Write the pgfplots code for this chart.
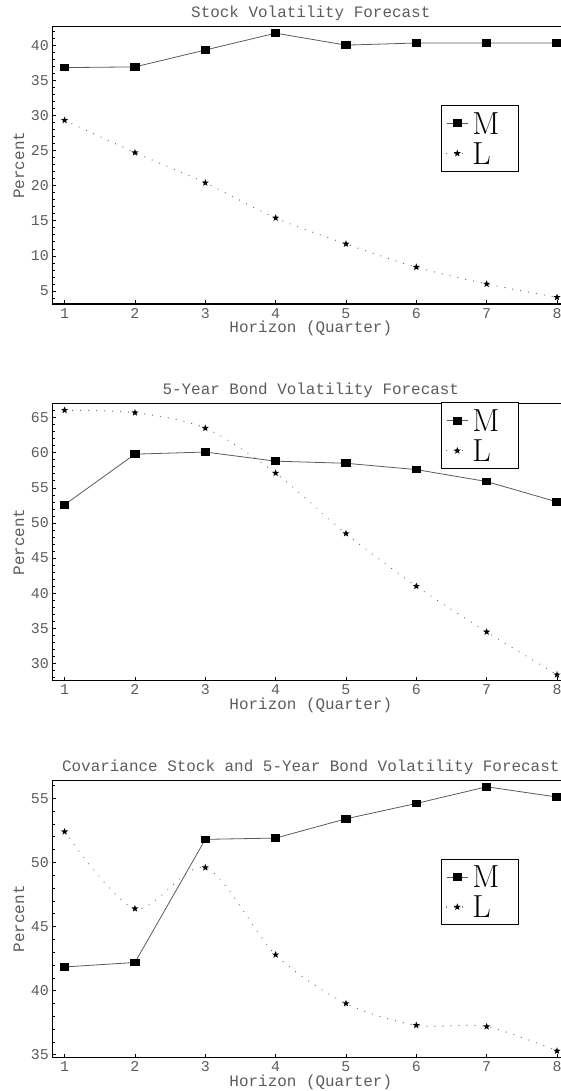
\documentclass[border=0pt]{standalone}
\usepackage{fontspec}
\usepackage{pgfplots}
\pgfplotsset{compat=1.18}
\newfontfamily\mono{Liberation Mono}
\definecolor{txt}{HTML}{5C5C5C}
\definecolor{lnM}{HTML}{5A5A5A}
\definecolor{lnL}{HTML}{6A6A6A}

% filled box marker (a bit wider than tall, as in the source)
\pgfdeclareplotmark{mbox}{%
  \pgfpathrectangle{\pgfpoint{-4.75bp}{-3.85bp}}{\pgfpoint{9.5bp}{7.7bp}}%
  \pgfusepathqfill}
% filled five point star
\pgfdeclareplotmark{fstar}{%
  \pgfpathmoveto{\pgfpointpolar{90}{\pgfplotmarksize}}%
  \pgfpathlineto{\pgfpointpolar{126}{0.42\pgfplotmarksize}}%
  \pgfpathlineto{\pgfpointpolar{162}{\pgfplotmarksize}}%
  \pgfpathlineto{\pgfpointpolar{198}{0.42\pgfplotmarksize}}%
  \pgfpathlineto{\pgfpointpolar{234}{\pgfplotmarksize}}%
  \pgfpathlineto{\pgfpointpolar{270}{0.42\pgfplotmarksize}}%
  \pgfpathlineto{\pgfpointpolar{306}{\pgfplotmarksize}}%
  \pgfpathlineto{\pgfpointpolar{342}{0.42\pgfplotmarksize}}%
  \pgfpathlineto{\pgfpointpolar{18}{\pgfplotmarksize}}%
  \pgfpathlineto{\pgfpointpolar{54}{0.42\pgfplotmarksize}}%
  \pgfpathclose
  \pgfusepathqfill}

\pgfplotsset{
  every axis title shift=0pt,
  fc/.style={
    scale only axis, width=517bp, height=277.5bp,
    xmin=0.825, xmax=8.175, xtick={1,...,8},
    axis lines*=left,
    tick align=inside,
    major tick length=4bp, minor tick length=2.5bp,
    axis line style={black, line width=1.1bp},
    tick style={black, line width=0.7bp},
    % top edge of the frame (the right edge lies outside the picture)
    after end axis/.code={\draw[black, line width=1.1bp]
      (rel axis cs:0,1) -- (rel axis cs:1,1);},
    /pgf/number format/assume math mode=true,
    tick label style={font=\mono\fontsize{15}{15}\selectfont, text=txt},
    xticklabel style={anchor=base, inner sep=0pt, yshift=-14bp},
    label style={font=\mono\fontsize{16}{16}\selectfont, text=txt, inner sep=0pt},
    title style={font=\mono\fontsize{16}{16}\selectfont, text=txt, inner sep=0pt,
      at={(axis description cs:0.5,1)}, anchor=base, yshift=8.8bp},
    xlabel style={at={(axis description cs:0.5,0)}, anchor=base, yshift=-28.5bp},
    ylabel style={at={(axis description cs:-0.0644,0.5)}, anchor=center},
    xlabel={Horizon (Quarter)}, ylabel={Percent},
    legend cell align=left,
    legend style={draw=black, line width=0.8bp, fill=white,
      inner xsep=4.5bp, inner ysep=7bp, anchor=north west,
      font=\fontsize{32}{32}\selectfont,
      nodes={inner sep=0pt, text depth=0pt}, row sep=8.3bp,
      /tikz/every odd column/.style={column sep=3.7bp}},
    legend image code/.code={\draw[mark repeat=2,mark phase=2,##1]
      plot coordinates {(0bp,0bp) (10.75bp,0bp) (21.5bp,0bp)};},
  },
  mser/.style={color=lnM, line width=0.8bp, mark=mbox,
    mark options={fill=black, draw=black}},
  lser/.style={color=lnL, line width=1.3bp, line cap=round,
    dash pattern=on 0.01bp off 8bp, smooth, mark=fstar, mark size=3.7bp,
    mark options={solid, fill=black, draw=black}},
}

\begin{document}
\begin{tikzpicture}
\useasboundingbox (0,0) rectangle (561bp,-1091bp);
\clip (0,0) rectangle (561bp,-1091bp);

\begin{axis}[fc, at={(52.3bp,-304bp)}, anchor=south west,
  ymin=3.15, ymax=42.65, ytick={5,10,...,40}, minor ytick={4,...,42},
  title={Stock Volatility Forecast},
  legend style={at={(rel axis cs:0.7518,0.717)}}]
\addplot[mser] coordinates {(1,36.8) (2,36.9) (3,39.3) (4,41.7) (5,40.0) (6,40.3) (7,40.3) (8,40.3)};
\addlegendentry{\makebox[42bp][l]{M}}
\addplot[lser] coordinates {(1,29.3) (2,24.7) (3,20.4) (4,15.4) (5,11.7) (6,8.4) (7,6.0) (8,4.1)};
\addlegendentry{\makebox[42bp][l]{L}}
\end{axis}

\begin{axis}[fc, at={(52.3bp,-680.7bp)}, anchor=south west,
  ymin=27.55, ymax=67.05, ytick={30,35,...,65}, minor ytick={28,...,67},
  title={5-Year Bond Volatility Forecast},
  legend style={at={(rel axis cs:0.7518,1.003)}}]
\addplot[mser] coordinates {(1,52.6) (2,59.8) (3,60.1) (4,58.8) (5,58.5) (6,57.6) (7,55.9) (8,53.0)};
\addlegendentry{\makebox[42bp][l]{M}}
\addplot[lser] coordinates {(1,66.05) (2,65.7) (3,63.5) (4,57.1) (5,48.5) (6,41.0) (7,34.5) (8,28.4)};
\addlegendentry{\makebox[42bp][l]{L}}
\end{axis}

\begin{axis}[fc, at={(52.3bp,-1057.6bp)}, anchor=south west,
  ymin=34.78, ymax=56.42, ytick={35,40,...,55}, minor ytick={35,...,56},
  title={Covariance Stock and 5-Year Bond Volatility Forecast},
  legend style={at={(rel axis cs:0.7518,0.717)}}]
\addplot[mser] coordinates {(1,41.85) (2,42.2) (3,51.8) (4,51.9) (5,53.4) (6,54.6) (7,55.9) (8,55.1)};
\addlegendentry{\makebox[42bp][l]{M}}
\addplot[lser] coordinates {(1,52.4) (2,46.4) (3,49.6) (4,42.8) (5,39.0) (6,37.3) (7,37.2) (8,35.3)};
\addlegendentry{\makebox[42bp][l]{L}}
\end{axis}
\end{tikzpicture}
\end{document}
